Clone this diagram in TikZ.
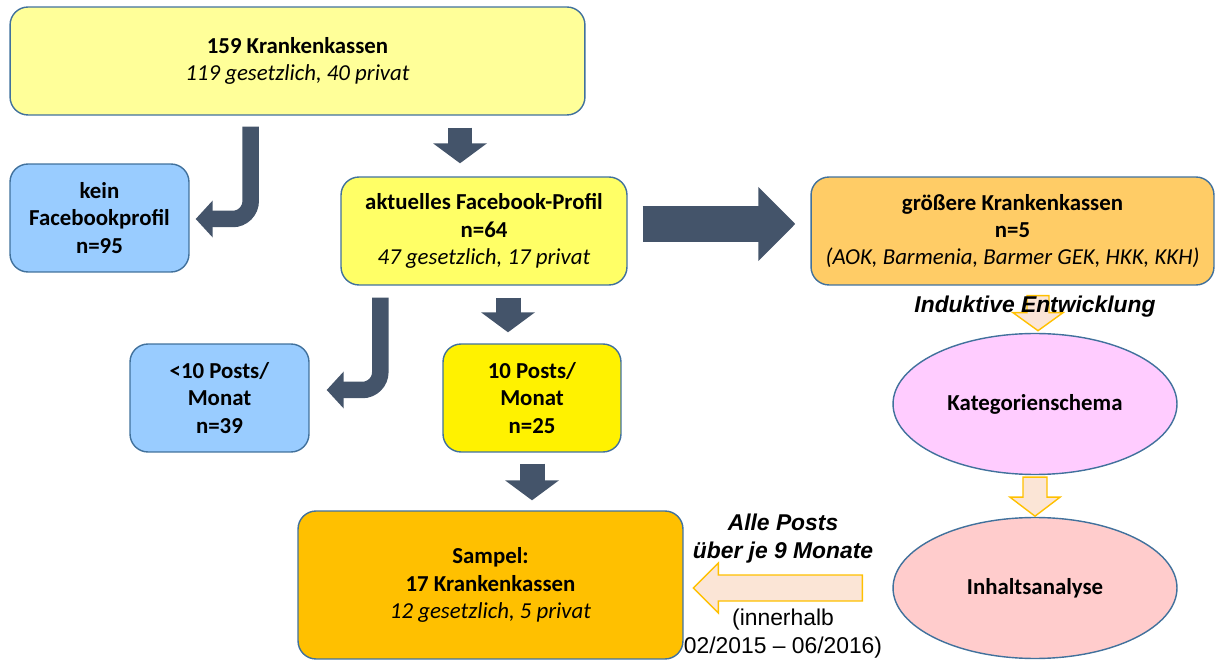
\documentclass[tikz,border=0pt]{standalone}
\usepackage{fontspec}
\setmainfont{Carlito}
\newfontfamily\arialfont{Liberation Sans}
\usetikzlibrary{arrows.meta, calc, shapes.geometric}
\definecolor{boxline}{HTML}{41719C}
\definecolor{darkarrow}{HTML}{44546A}
\definecolor{paleyellow}{HTML}{FFFF99}
\definecolor{midyellow}{HTML}{FFFF66}
\definecolor{lightblue}{HTML}{99CCFF}
\definecolor{lightorange}{HTML}{FFCC66}
\definecolor{gold}{HTML}{FFC000}
\definecolor{lilac}{HTML}{FFCCFF}
\definecolor{rose}{HTML}{FFCCCC}
\definecolor{peach}{HTML}{FBE5D6}
\tikzset{
        x=0.02cm, y=-0.02cm,
        box/.style={draw=boxline, line width=0.8pt, rounded corners=0.36cm,
                align=center, inner sep=0pt, minimum height=2.16cm,
                font=\fontsize{13}{15.6}\selectfont},
        oval/.style={ellipse, draw=boxline, line width=0.8pt, inner sep=0pt,
                minimum width=5.68cm, minimum height=2.82cm,
                font=\fontsize{13}{15.6}\selectfont\bfseries},
        darrow/.style={draw=darkarrow, line width=0.48cm,
                -{Triangle[width=1.06cm, length=0.4cm]}},
        bentarrow/.style={draw=darkarrow, line width=0.33cm, rounded corners=0.36cm,
                -{Triangle[width=0.72cm, length=0.34cm]}},
        hollow/.style={draw=gold, fill=peach, line width=0.8pt, line join=miter},
        note/.style={align=center, inner sep=0pt,
                font=\arialfont\fontsize{13}{15.9}\selectfont}
        }
\begin{document}
\begin{tikzpicture}
        \useasboundingbox (0,0) rectangle (1216,661);

        % boxes
        \node[box, fill=paleyellow, minimum width=11.5cm] (all) at (297.5,61)
                {\textbf{159 Krankenkassen}\\\textit{119 gesetzlich, 40 privat}};
        \node[box, fill=lightblue, minimum width=3.58cm] (nofb) at (99.5,218)
                {\textbf{kein}\\\textbf{Facebookprofil}\\\textbf{n=95}};
        \node[box, fill=midyellow, minimum width=5.72cm] (fb) at (484,231)
                {\textbf{aktuelles Facebook-Profil}\\\textbf{n=64}\\\textit{47 gesetzlich, 17 privat}};
        \node[box, fill=lightorange, minimum width=8.06cm] (big) at (1012.5,231)
                {\textbf{größere Krankenkassen}\\\textbf{n=5}\\\textit{(AOK, Barmenia, Barmer GEK, HKK, KKH)}};
        \node[box, fill=lightblue, minimum width=3.58cm] (few) at (219.5,398)
                {\textbf{<10 Posts/}\\\textbf{Monat}\\\textbf{n=39}};
        \node[box, fill=yellow, minimum width=3.56cm] (many) at (532,398)
                {\textbf{10 Posts/}\\\textbf{Monat}\\\textbf{n=25}};
        \node[box, fill=gold, minimum width=7.7cm, minimum height=2.96cm] (sample) at (490.5,585)
                {\textbf{Sampel:}\\\textbf{17 Krankenkassen}\\\textit{12 gesetzlich, 5 privat}};
        \node[oval, fill=lilac] (schema) at (1035,404) {Kategorienschema};
        \node[oval, fill=rose] (analyse) at (1035,588) {Inhaltsanalyse};

        % dark arrows
        \draw[darrow, shorten <=0.24cm, shorten >=0.26cm]
                ($(all.south -| fb.north)+(-24,0)$) -- ($(fb.north)+(-24,0)$);
        \draw[bentarrow, shorten <=0.22cm, shorten >=0.12cm]
                ($(all.south -| nofb.east)+(61,0)$) |- ($(nofb.east)+(0,1)$);
        \draw[darrow, line width=0.72cm, -{Triangle[width=1.44cm, length=0.74cm]},
                shorten <=0.3cm, shorten >=0.3cm] ($(fb.east)+(0,-7)$) -- ($(big.west)+(0,-7)$);
        \draw[darrow, line width=0.5cm, shorten <=0.24cm, shorten >=0.22cm]
                ($(fb.south)+(24,0)$) -- ($(many.north)+(-24,0)$);
        \draw[bentarrow, shorten <=0.24cm, shorten >=0.34cm]
                ($(fb.south west)+(40,0)$) |- ($(few.east)+(0,-8)$);
        \draw[darrow, line width=0.5cm, shorten <=0.22cm, shorten >=0.2cm]
                (many.south) -- (many.south |- sample.north);

        % hollow arrows
        \draw[hollow] ($(big.south)+(14.5,10)$) -- ++(22,0) -- ++(0,17) -- ++(14,0)
                -- ++(-25,18) -- ++(-25,-18) -- ++(14,0) -- cycle;
        \draw[hollow] ($(schema.south)+(-12,2)$) -- ++(24,0) -- ++(0,20) -- ++(13,0)
                -- ++(-25,19) -- ++(-25,-19) -- ++(13,0) -- cycle;
        \draw[hollow] ($(analyse.west)+(-30,-13)$) -- ++(-144,0) -- ++(0,-12) -- ++(-25,25)
                -- ++(25,25) -- ++(0,-12) -- ++(144,0) -- cycle;

        % labels
        \node[note] (induktiv) at (1035,307) {\textbf{\textit{Induktive Entwicklung}}};
        \node[note] (posts) at (783,539) {\textbf{\textit{Alle Posts}}\\\textbf{\textit{über je 9 Monate}}};
        \node[note] (period) at (783,634) {(innerhalb\\02/2015 – 06/2016)};
\end{tikzpicture}
\end{document}
